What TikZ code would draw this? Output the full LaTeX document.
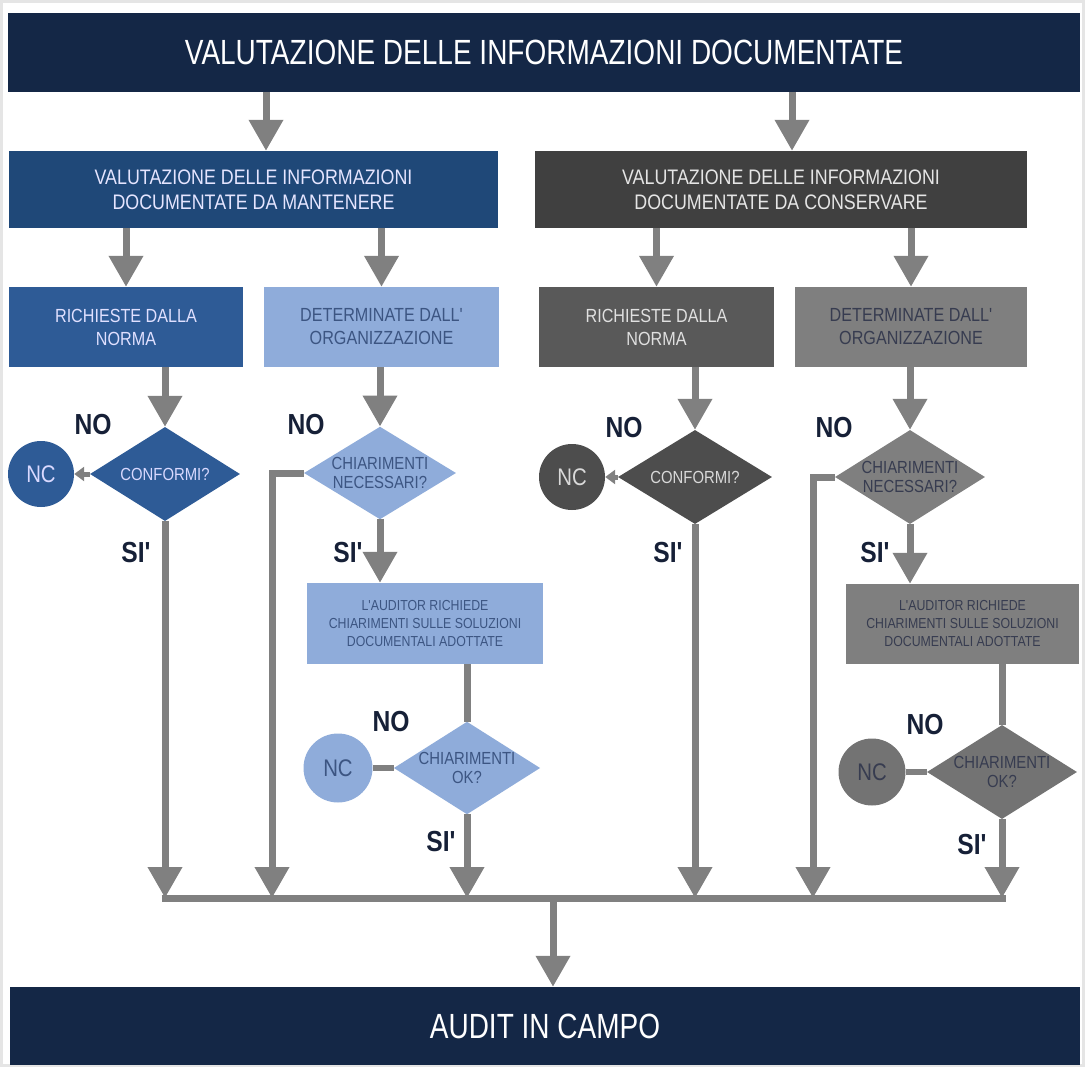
\documentclass[tikz,border=0pt]{standalone}
\usepackage{fontspec}
\setmainfont{Liberation Sans}
\newfontfamily\nf[FakeStretch=0.85]{Liberation Sans}
\newfontfamily\tf[FakeStretch=0.8]{Liberation Sans}
\usetikzlibrary{shapes.geometric,arrows.meta}
\definecolor{navy}{RGB}{20,39,70}
\definecolor{blueA}{RGB}{31,72,120}
\definecolor{blueB}{RGB}{46,91,150}
\definecolor{lightB}{RGB}{143,172,218}
\definecolor{lightT}{RGB}{60,85,130}
\definecolor{greyA}{RGB}{64,64,64}
\definecolor{greyB}{RGB}{89,89,89}
\definecolor{greyC}{RGB}{77,77,77}
\definecolor{greyD}{RGB}{127,127,127}
\definecolor{greyE}{RGB}{115,115,115}
\definecolor{greyT}{RGB}{55,60,80}
\definecolor{conn}{RGB}{128,128,128}
\definecolor{labc}{RGB}{22,32,55}
\tikzset{
  box/.style={rectangle, inner sep=0pt, align=center},
  dia/.style={diamond, inner sep=0pt, align=center, aspect=1.58},
  nc/.style={circle, inner sep=0pt, align=center, font=\nf\fontsize{24}{26}\selectfont},
  bigtxt/.style={font=\tf\fontsize{35}{38}\selectfont, text=white},
  midtxt/.style={font=\nf\fontsize{21}{25}\selectfont},
  smalltxt/.style={font=\nf\fontsize{19}{23}\selectfont},
  tinytxt/.style={font=\nf\fontsize{14.5}{18}\selectfont},
  diatxt/.style={font=\nf\fontsize{17.5}{19}\selectfont},
  lab/.style={font=\bfseries\nf\fontsize{29}{30}\selectfont, text=labc},
  ln/.style={draw=conn, line width=7pt},
  arr/.style={ln, -{Triangle[length=31pt,width=33pt]}},
  sarr/.style={draw=conn, line width=5pt, -{Triangle[length=10pt,width=14pt]}},
}
\begin{document}
\begin{tikzpicture}[x=1pt,y=-1pt]
\useasboundingbox (0,0) rectangle (1085,1067);
\draw[gray!20, line width=3pt] (1.5,1.5) rectangle (1083.5,1065.5);

% top and bottom
\node[box, fill=navy, minimum width=1072pt, minimum height=79pt, bigtxt] (top) at (544,52.5) {VALUTAZIONE DELLE INFORMAZIONI DOCUMENTATE};
\node[box, fill=navy, minimum width=1070pt, minimum height=78pt, bigtxt] (audit) at (545,1026) {AUDIT IN CAMPO};

% second row
\node[box, fill=blueA, minimum width=489pt, minimum height=77pt, midtxt, text=white!90!blue] (A) at (253.5,189.5) {VALUTAZIONE DELLE INFORMAZIONI\\DOCUMENTATE DA MANTENERE};
\node[box, fill=greyA, minimum width=492pt, minimum height=77pt, midtxt, text=white!90!black] (B) at (781,189.5) {VALUTAZIONE DELLE INFORMAZIONI\\DOCUMENTATE DA CONSERVARE};

% third row
\node[box, fill=blueB, minimum width=234pt, minimum height=80pt, smalltxt, text=white!88!blue] (R1) at (126,327) {RICHIESTE DALLA\\NORMA};
\node[box, fill=lightB, minimum width=235pt, minimum height=80pt, smalltxt, text=lightT] (O1) at (381.5,327) {DETERMINATE DALL'\\ORGANIZZAZIONE};
\node[box, fill=greyB, minimum width=235pt, minimum height=80pt, smalltxt, text=white!88!black] (R2) at (656.5,327) {RICHIESTE DALLA\\NORMA};
\node[box, fill=greyD, minimum width=232pt, minimum height=80pt, smalltxt, text=greyT] (O2) at (911,327) {DETERMINATE DALL'\\ORGANIZZAZIONE};

% decisions
\node[dia, fill=blueB, minimum width=150pt, minimum height=94pt, diatxt, text=white!85!blue] (D1) at (165,474) {CONFORMI?};
\node[nc, fill=blueB, minimum size=66pt, text=white!85!blue] (NC1) at (41,474) {NC};
\node[dia, fill=lightB, minimum width=152pt, minimum height=92pt, diatxt, text=lightT] (D2) at (380,473) {CHIARIMENTI\\NECESSARI?};
\node[dia, fill=greyC, minimum width=154pt, minimum height=94pt, diatxt, text=white!85!black] (D3) at (695,477) {CONFORMI?};
\node[nc, fill=greyC, minimum size=66pt, text=white!85!black] (NC3) at (572,477) {NC};
\node[dia, fill=greyD, minimum width=150pt, minimum height=94pt, diatxt, text=greyT] (D4) at (910,477) {CHIARIMENTI\\NECESSARI?};

% auditor boxes
\node[box, fill=lightB, minimum width=236pt, minimum height=81pt, tinytxt, text=lightT] (C1) at (425,623.5) {L'AUDITOR RICHIEDE\\CHIARIMENTI SULLE SOLUZIONI\\DOCUMENTALI ADOTTATE};
\node[box, fill=greyD, minimum width=233pt, minimum height=80pt, tinytxt, text=greyT] (C2) at (962.5,624) {L'AUDITOR RICHIEDE\\CHIARIMENTI SULLE SOLUZIONI\\DOCUMENTALI ADOTTATE};

% second decisions
\node[dia, fill=lightB, minimum width=140pt, minimum height=92pt, diatxt, text=lightT] (D5) at (467,768) {CHIARIMENTI\\OK?};
\node[nc, fill=lightB, minimum size=69pt, text=lightT] (NC5) at (338,768) {NC};
\node[dia, fill=greyE, minimum width=150pt, minimum height=94pt, diatxt, text=greyT] (D6) at (1002,772) {CHIARIMENTI\\OK?};
\node[nc, fill=greyE, minimum size=67pt, text=greyT] (NC6) at (872,772) {NC};

% labels
\node[lab] (no1) at (93,425) {NO};
\node[lab] (si1) at (136,553) {SI'};
\node[lab] (no2) at (306,425) {NO};
\node[lab] (si2) at (348,553) {SI'};
\node[lab] (no3) at (624,428) {NO};
\node[lab] (si3) at (668,553) {SI'};
\node[lab] (no4) at (834,428) {NO};
\node[lab] (si4) at (875,553) {SI'};
\node[lab] (no5) at (391,722) {NO};
\node[lab] (si5) at (441,842) {SI'};
\node[lab] (no6) at (925,725) {NO};
\node[lab] (si6) at (972,845) {SI'};

% coordinates
\coordinate (xa) at (266,0);
\coordinate (xb) at (792,0);
\coordinate (bus) at (553,898);
\coordinate (L1) at (272,898);
\coordinate (L2) at (813,898);

% connectors
\draw[arr] (xa |- top.south) -- (xa |- A.north);
\draw[arr] (xb |- top.south) -- (xb |- B.north);
\draw[arr] (R1.north |- A.south) -- (R1.north);
\draw[arr] (O1.north |- A.south) -- (O1.north);
\draw[arr] (R2.north |- B.south) -- (R2.north);
\draw[arr] (O2.north |- B.south) -- (O2.north);
\draw[arr] (D1.north |- R1.south) -- (D1.north);
\draw[arr] (D2.north |- O1.south) -- (D2.north);
\draw[arr] (D3.north |- R2.south) -- (D3.north);
\draw[arr] (D4.north |- O2.south) -- (D4.north);
\draw[sarr] (D1.west) -- (NC1.east);
\draw[sarr] (D3.west) -- (NC3.east);
\draw[arr] (D2.south) -- (D2.south |- C1.north);
\draw[arr] (D4.south) -- (D4.south |- C2.north);
\draw[ln] (D5.north |- C1.south) -- (D5.north);
\draw[ln] (D6.north |- C2.south) -- (D6.north);
\draw[ln, line width=6pt] (D5.west) -- (NC5.east);
\draw[ln, line width=6pt] (D6.west) -- (NC6.east);
\draw[ln] ([xshift=-3.5pt]D1.south |- bus) -- ([xshift=3.5pt]D6.south |- bus);
\draw[arr] (D1.south) -- (D1.south |- bus);
\draw[arr] (D2.west) -| (L1);
\draw[arr] (D5.south) -- (D5.south |- bus);
\draw[arr] (D3.south) -- (D3.south |- bus);
\draw[arr] (D4.west) -| (L2);
\draw[arr] (D6.south) -- (D6.south |- bus);
\draw[arr] (bus) -- (bus |- audit.north);
\end{tikzpicture}
\end{document}
